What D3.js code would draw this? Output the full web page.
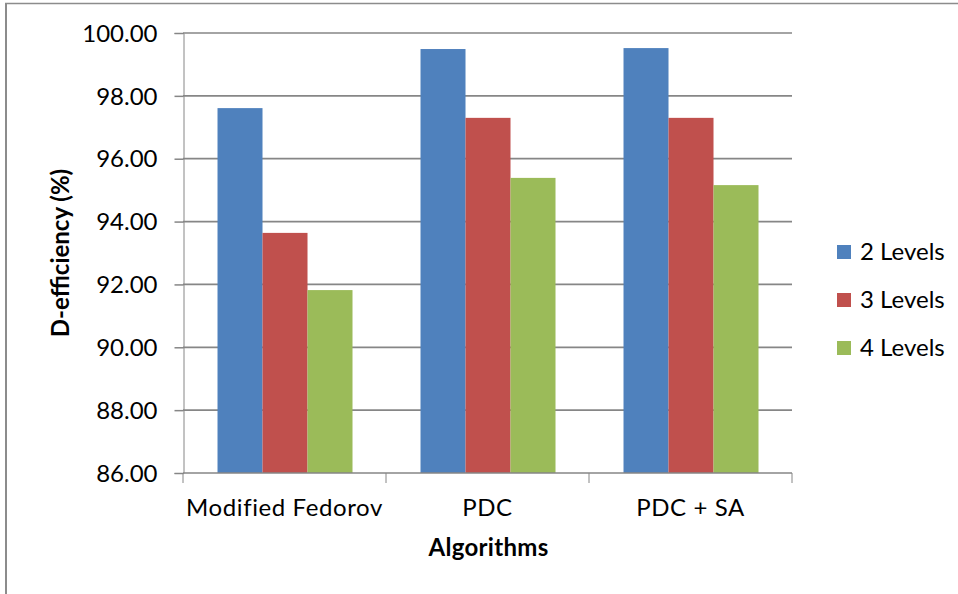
<!DOCTYPE html>
<html>
<head>
<meta charset="utf-8">
<script src="https://cdn.jsdelivr.net/npm/d3@7"></script>
<style>
  html, body { margin: 0; padding: 0; background: #fff; }
  svg { display: block; }
  text { font-family: Lato, "Open Sans", "DejaVu Sans", sans-serif; fill: #000; }
</style>
</head>
<body>
<script>
// Categories, series and their values
const categories = ["Modified Fedorov", "PDC", "PDC + SA"];
const seriesNames = ["2 Levels", "3 Levels", "4 Levels"];
const levels2 = [97.61, 99.49, 99.52];
const levels3 = [93.64, 97.30, 97.30];
const levels4 = [91.82, 95.39, 95.16];
const yTicks = [86, 88, 90, 92, 94, 96, 98, 100];
const colors = ["#4F81BD", "#C0504D", "#9BBB59"];

const seriesValues = [levels2, levels3, levels4];

const W = 958, H = 594;
const plot = { left: 183, right: 792, top: 33, bottom: 473 };

const svg = d3.select("body").append("svg")
  .attr("width", W).attr("height", H);

// Outer frame (left and top edges)
svg.append("line").attr("x1", 6).attr("x2", 6).attr("y1", 3).attr("y2", H)
  .attr("stroke", "#8c8c8c").attr("stroke-width", 2);
svg.append("line").attr("x1", 5).attr("x2", W).attr("y1", 3.5).attr("y2", 3.5)
  .attr("stroke", "#8c8c8c").attr("stroke-width", 1.5);

const y = d3.scaleLinear().domain([86, 100]).range([plot.bottom, plot.top]);
const x0 = d3.scaleBand().domain(categories).range([plot.left, plot.right]).padding(0);
const bw = x0.bandwidth();
const x1 = d3.scaleBand().domain(seriesNames).range([bw * 0.17, bw * 0.835]).padding(0);

// Horizontal gridlines
svg.append("g").selectAll("line").data(yTicks.filter(t => t !== 86)).join("line")
  .attr("x1", plot.left).attr("x2", plot.right)
  .attr("y1", d => y(d)).attr("y2", d => y(d))
  .attr("stroke", "#868686").attr("stroke-width", 1.7);

// Bars
const groups = svg.append("g").selectAll("g").data(categories).join("g")
  .attr("transform", c => `translate(${x0(c)},0)`);
groups.selectAll("rect")
  .data((c, ci) => seriesNames.map((s, si) => ({ s, si, v: seriesValues[si][ci] })))
  .join("rect")
  .attr("x", d => x1(d.s))
  .attr("width", x1.bandwidth())
  .attr("y", d => y(d.v))
  .attr("height", d => y(86) - y(d.v))
  .attr("fill", d => colors[d.si]);

// Y axis
const yAxis = d3.axisLeft(y).tickValues(yTicks).tickFormat(d3.format(".2f"))
  .tickSize(9).tickPadding(17);
const gy = svg.append("g").attr("transform", `translate(${plot.left + 0.5},0)`).call(yAxis);
gy.select(".domain").attr("stroke", "#868686").attr("stroke-width", 1);
gy.selectAll(".tick line").attr("stroke", "#868686").attr("stroke-width", 1.5);
gy.selectAll(".tick text").attr("font-size", 24).attr("font-family", "Lato, 'Open Sans', sans-serif")
  .attr("fill", "#000").attr("dy", "0.34em");

// X axis with ticks at category boundaries
const gx = svg.append("g").attr("transform", `translate(0,${plot.bottom})`);
gx.append("line").attr("x1", plot.left).attr("x2", plot.right).attr("y1", 0).attr("y2", 0)
  .attr("stroke", "#868686").attr("stroke-width", 1.5);
const boundaries = categories.map(c => x0(c)).concat([x0(categories[categories.length - 1]) + bw]);
gx.selectAll("line.b").data(boundaries).join("line").attr("class", "b")
  .attr("x1", d => d).attr("x2", d => d).attr("y1", 0).attr("y2", 10)
  .attr("stroke", "#868686").attr("stroke-width", 1);
gx.selectAll("text").data(categories).join("text")
  .attr("x", c => x0(c) + bw / 2).attr("y", 43)
  .attr("text-anchor", "middle").attr("font-size", 24).attr("letter-spacing", 0.6)
  .text(c => c);

// Axis titles
svg.append("text").attr("x", (plot.left + plot.right) / 2 + 1).attr("y", 556)
  .attr("text-anchor", "middle").attr("font-size", 24).attr("font-weight", "bold")
  .attr("letter-spacing", 0.3)
  .text("Algorithms");
svg.append("text")
  .attr("transform", `translate(69,${(plot.top + plot.bottom) / 2}) rotate(-90)`)
  .attr("text-anchor", "middle").attr("font-size", 24).attr("font-weight", "bold")
  .text("D-efficiency (%)");

// Legend
const legend = svg.append("g").selectAll("g").data(seriesNames).join("g")
  .attr("transform", (d, i) => `translate(837,${252 + i * 48})`);
legend.append("rect").attr("x", 0).attr("y", -7).attr("width", 14).attr("height", 14)
  .attr("fill", (d, i) => colors[i]);
legend.append("text").attr("x", 23).attr("y", 8).attr("font-size", 24).text(d => d);
</script>
</body>
</html>
